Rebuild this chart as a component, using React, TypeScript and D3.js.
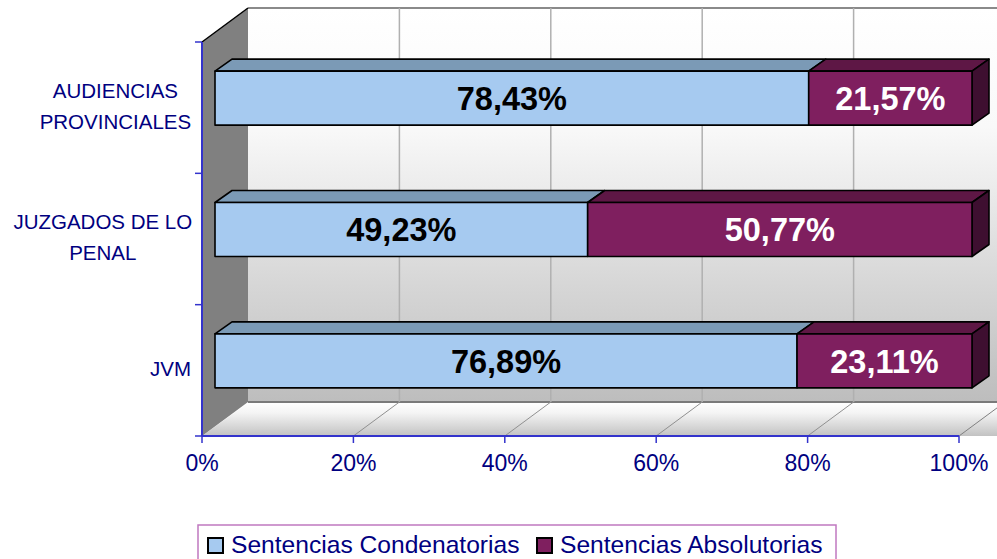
import { useMemo } from 'react';
import * as d3 from 'd3';

const categories = ['AUDIENCIAS PROVINCIALES', 'JUZGADOS DE LO PENAL', 'JVM'];
const categoryLines = [['AUDIENCIAS', 'PROVINCIALES'], ['JUZGADOS DE LO', 'PENAL'], ['JVM']];
const condenatorias = [78.43, 49.23, 76.89];
const absolutorias = [21.57, 50.77, 23.11];
const seriesNames = ['Sentencias Condenatorias', 'Sentencias Absolutorias'];
const xTicks = [0, 20, 40, 60, 80, 100];

const size = { width: 997, height: 559 };

// front plane of the plot and the 3d depth of the walls
const PLOT = { left: 202, right: 959, top: 42, bottom: 436 };
const WALL = { dx: 46, dy: -34 };
// bars sit part way into the depth
const BAR = { ox: 13, oy: -9.5, dx: 17, dy: -12, h: 54 };

const color = {
  axis: '#3333cc',
  text: '#000080',
  sideWall: '#808080',
  grid: '#b0b0b0',
  front: ['#a6caf0', '#7f1f5f'],
  top: ['#7b9ab6', '#5e1745'],
  side: ['#5a7590', '#3e0f30'],
  label: ['#000000', '#ffffff'],
};

const fmt = (v: number) => v.toFixed(2).replace('.', ',') + '%';

const App = () => {
  const xScale = useMemo(() => d3.scaleLinear().domain([0, 100]).range([PLOT.left, PLOT.right]), []);
  const yScale = useMemo(
    () => d3.scaleBand<string>().domain(categories).range([PLOT.top, PLOT.bottom]).padding(0),
    [],
  );

  const rows = categories.map((c, i) => ({ cat: c, cond: condenatorias[i], abs: absolutorias[i] }));
  const stacked = d3.stack<any>().keys(['cond', 'abs'])(rows);

  const line = d3.line();
  const poly = (pts: [number, number][]) => line(pts) + 'Z';

  const backX0 = PLOT.left + WALL.dx;
  const backTop = 8;
  const backBottom = PLOT.bottom + WALL.dy;

  return (
    <svg
      width={size.width}
      height={size.height}
      style={{ position: 'absolute', left: 0, top: 0, background: '#ffffff' }}
      fontFamily="'Liberation Sans', Arial, sans-serif"
    >
      <defs>
        <linearGradient id="backGrad" x1="0" x2="0" y1="0" y2="1">
          <stop offset="0" stopColor="#ffffff" />
          <stop offset="0.3" stopColor="#f9f9f9" />
          <stop offset="1" stopColor="#bdbdbd" />
        </linearGradient>
        <linearGradient id="floorGrad" x1="0" x2="0" y1="0" y2="1">
          <stop offset="0" stopColor="#ffffff" />
          <stop offset="0.3" stopColor="#f4f4f4" />
          <stop offset="1" stopColor="#c2c2c2" />
        </linearGradient>
      </defs>

      {/* back wall */}
      <rect x={backX0} y={backTop} width={size.width - backX0} height={backBottom - backTop} fill="url(#backGrad)" />
      <line x1={backX0} x2={size.width} y1={backTop} y2={backTop} stroke="#8a8a8a" strokeWidth={2} />
      <line x1={backX0} x2={size.width} y1={backBottom} y2={backBottom} stroke="#7a7a7a" strokeWidth={2} />

      {/* floor */}
      <path
        d={poly([
          [PLOT.left, PLOT.bottom],
          [backX0, backBottom + 1],
          [size.width + 20, backBottom + 1],
          [size.width + 20, PLOT.bottom],
        ])}
        fill="url(#floorGrad)"
      />
      <line
        x1={xScale(100)}
        y1={PLOT.bottom}
        x2={xScale(100) + WALL.dx}
        y2={PLOT.bottom + WALL.dy}
        stroke="#808080"
      />

      {/* left wall */}
      <path
        d={poly([
          [PLOT.left, PLOT.top],
          [backX0, backTop],
          [backX0, backBottom],
          [PLOT.left, PLOT.bottom],
        ])}
        fill={color.sideWall}
      />
      <line x1={PLOT.left} y1={PLOT.top} x2={backX0} y2={backTop} stroke="#000" strokeWidth={1.5} />

      {/* grid lines on back wall and floor */}
      {xTicks.slice(1, -1).map(t => (
        <g key={t}>
          <line
            x1={xScale(t) + WALL.dx}
            x2={xScale(t) + WALL.dx}
            y1={backTop}
            y2={backBottom}
            stroke={color.grid}
            strokeWidth={1.5}
          />
          <line
            x1={xScale(t)}
            y1={PLOT.bottom}
            x2={xScale(t) + WALL.dx}
            y2={backBottom}
            stroke="#909090"
          />
        </g>
      ))}

      {/* bars */}
      {categories.map((c, ci) => {
        const cy = (yScale(c) ?? 0) + yScale.bandwidth() / 2 + BAR.oy;
        const y0 = cy - BAR.h / 2;
        const y1 = cy + BAR.h / 2;
        return (
          <g key={c}>
            {stacked.map((s, si) => {
              const a = xScale(s[ci][0]) + BAR.ox;
              const b = xScale(s[ci][1]) + BAR.ox;
              const isLast = si === stacked.length - 1;
              return (
                <g key={si} stroke="#000" strokeWidth={1.6} strokeLinejoin="round">
                  <path
                    d={poly([
                      [a, y0],
                      [a + BAR.dx, y0 + BAR.dy],
                      [b + BAR.dx, y0 + BAR.dy],
                      [b, y0],
                    ])}
                    fill={color.top[si]}
                  />
                  {isLast && (
                    <path
                      d={poly([
                        [b, y0],
                        [b + BAR.dx, y0 + BAR.dy],
                        [b + BAR.dx, y1 + BAR.dy],
                        [b, y1],
                      ])}
                      fill={color.side[si]}
                    />
                  )}
                  <rect x={a} y={y0} width={b - a} height={y1 - y0} fill={color.front[si]} />
                </g>
              );
            })}
            {stacked.map((s, si) => {
              const a = xScale(s[ci][0]) + BAR.ox;
              const b = xScale(s[ci][1]) + BAR.ox;
              return (
                <text
                  key={'l' + si}
                  x={(a + b) / 2}
                  y={cy}
                  dy="0.36em"
                  textAnchor="middle"
                  fontSize={32.5}
                  fontWeight="bold"
                  fill={color.label[si]}
                >
                  {fmt(s[ci][1] - s[ci][0])}
                </text>
              );
            })}
          </g>
        );
      })}

      {/* y axis */}
      <line x1={PLOT.left} x2={PLOT.left} y1={PLOT.top} y2={PLOT.bottom} stroke={color.axis} strokeWidth={2} />
      {[0, 1, 2, 3].map(i => {
        const y = PLOT.top + i * yScale.bandwidth();
        return <line key={i} x1={PLOT.left - 7} x2={PLOT.left} y1={y} y2={y} stroke={color.axis} strokeWidth={1.5} />;
      })}
      {categories.map((c, ci) => {
        const lines = categoryLines[ci];
        const cy = (yScale(c) ?? 0) + yScale.bandwidth() / 2;
        const lh = 31;
        const maxLen = d3.max(lines, l => l.length) ?? 1;
        // centre the block of lines against the right edge
        const cx = 191 - maxLen * 6.3;
        return (
          <text
            key={c}
            fontSize={20.5}
            fill={color.text}
            textAnchor={lines.length > 1 ? 'middle' : 'end'}
          >
            {lines.map((l, li) => (
              <tspan
                key={li}
                x={lines.length > 1 ? cx : 191}
                y={cy - 2 + (li - (lines.length - 1) / 2) * lh}
                dy="0.36em"
              >
                {l}
              </tspan>
            ))}
          </text>
        );
      })}

      {/* x axis */}
      <line x1={PLOT.left} x2={PLOT.right} y1={PLOT.bottom} y2={PLOT.bottom} stroke={color.axis} strokeWidth={2} />
      {xTicks.map(t => (
        <g key={t}>
          <line
            x1={xScale(t)}
            x2={xScale(t)}
            y1={PLOT.bottom}
            y2={PLOT.bottom + 7}
            stroke={color.axis}
            strokeWidth={1.5}
          />
          <text x={xScale(t)} y={471} textAnchor="middle" fontSize={23} fill={color.text}>
            {t + '%'}
          </text>
        </g>
      ))}

      {/* legend */}
      <rect x={198} y={525} width={638} height={50} fill="#ffffff" stroke="#c078c0" strokeWidth={1.5} />
      {seriesNames.map((n, i) => {
        const x = i === 0 ? 208 : 537;
        return (
          <g key={n}>
            <rect x={x} y={538} width={15} height={15} fill={color.front[i]} stroke="#000" strokeWidth={2} />
            <text x={x + 23} y={553} fontSize={24.6} fill={color.text}>
              {n}
            </text>
          </g>
        );
      })}
    </svg>
  );
};

export default App;
